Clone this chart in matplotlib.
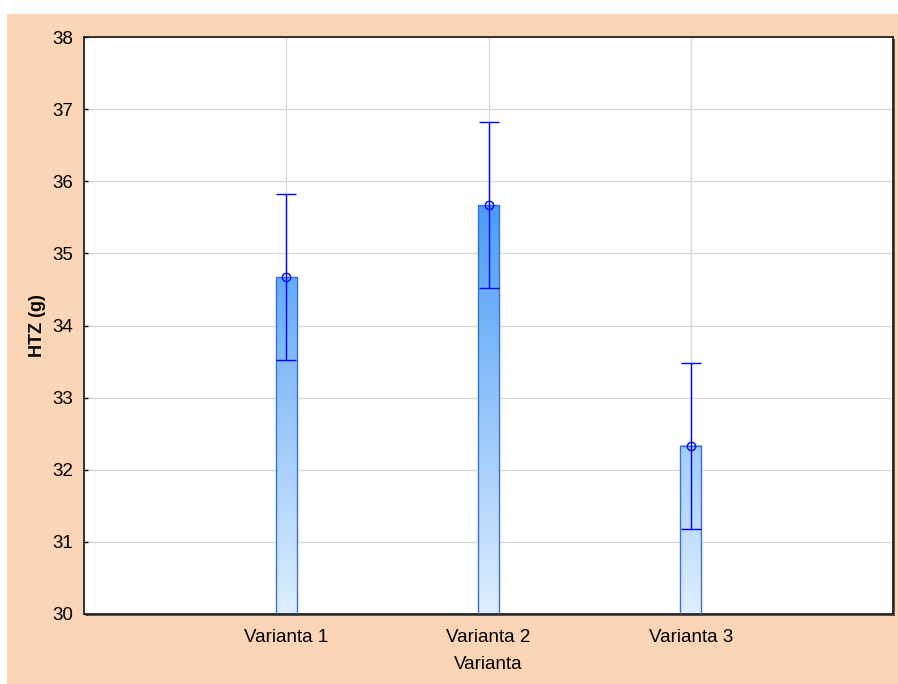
import numpy as np
import matplotlib
matplotlib.use('Agg')
import matplotlib.pyplot as plt
from matplotlib.colors import LinearSegmentedColormap
from matplotlib.patches import Rectangle

# data
categories = ['Varianta 1', 'Varianta 2', 'Varianta 3']
means = [34.67, 35.67, 32.33]
errors = [1.15, 1.15, 1.15]

plt.rcParams['font.family'] = ['Liberation Sans', 'DejaVu Sans']

fig = plt.figure(figsize=(8.98, 6.84), dpi=100, facecolor='white')
# peach panel, white strip on top and left
fig.patches.append(Rectangle((7 / 898, 0), 1, (684 - 14) / 684, transform=fig.transFigure,
                             facecolor='#fbd5b5', edgecolor='none', zorder=-10))

ax_pos = [84 / 898, 70 / 684, 809 / 898, 577 / 684]
# frame shadow
fig.patches.append(Rectangle((ax_pos[0] + 2 / 898, ax_pos[1] - 2 / 684), ax_pos[2], ax_pos[3],
                             transform=fig.transFigure, facecolor='#555555',
                             edgecolor='none', zorder=-5))
ax = fig.add_axes(ax_pos)
ax.set_facecolor('white')

x = np.arange(1, len(categories) + 1)
width = 0.104
ybase = 30

cmap = LinearSegmentedColormap.from_list('blu', ['#deeefe', '#4a9cf6'])
for xi, m in zip(x, means):
    grad = np.linspace(ybase, m, 200).reshape(-1, 1)
    ax.imshow(grad, extent=[xi - width / 2, xi + width / 2, ybase, m], origin='lower',
              aspect='auto', cmap=cmap, vmin=30, vmax=35.7, zorder=2)

ax.bar(x, np.array(means) - ybase, bottom=ybase, width=width, fill=False,
       edgecolor='#3b6fdc', linewidth=1.0, zorder=3)

ax.errorbar(x, means, yerr=errors, fmt='o', mfc='none', mec='#0000ff', color='#0000ff',
            ms=6, mew=1.0, elinewidth=1.0, capsize=7.5, capthick=1.0, zorder=4)

ax.set_xlim(0, 4)
ax.set_ylim(30, 38)
ax.set_xticks(x)
ax.set_xticklabels(categories)
ax.set_yticks(np.arange(30, 39, 1))
ax.grid(True, color='#d9d9d9', linewidth=1.0, zorder=0)
ax.set_axisbelow(True)

ax.tick_params(axis='both', direction='in', length=3, width=1, labelsize=13.5, colors='black')
ax.tick_params(axis='y', pad=8)
ax.tick_params(axis='x', pad=11)
for s in ax.spines.values():
    s.set_linewidth(1.3)
    s.set_color('#222222')

ax.set_xlabel('Varianta', fontsize=13.5, labelpad=7)
ax.set_ylabel('HTZ (g)', fontsize=13, fontweight='bold', labelpad=4)

fig.savefig('out.png', dpi=100, facecolor=fig.get_facecolor())
